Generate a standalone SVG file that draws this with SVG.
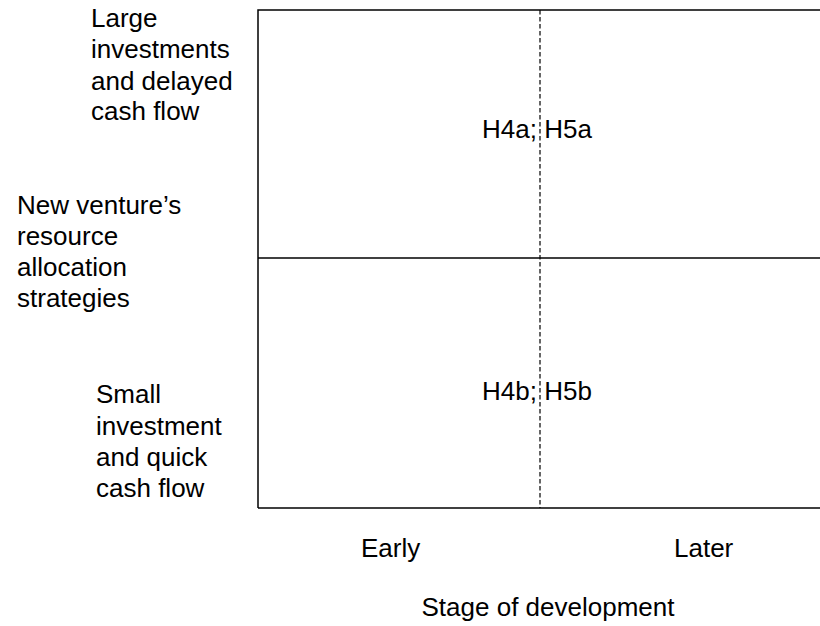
<svg xmlns="http://www.w3.org/2000/svg" width="820" height="626" viewBox="0 0 820 626">
  <style>
    text { font-family: "Liberation Sans", Arial, sans-serif; font-size: 26px; fill: #000; }
    .frame { stroke: #000; stroke-width: 1.5; fill: none; }
    .split { stroke: #000; stroke-width: 1.2; stroke-dasharray: 4.5 2.5; fill: none; }
  </style>
  <rect width="820" height="626" fill="#fff"/>

  <!-- quadrant frame -->
  <g id="frame">
    <path class="frame" d="M258 508 V10 H820"/>
    <path class="frame" d="M258 258 H820"/>
    <path class="frame" d="M258 508 H820"/>
    <path class="split" d="M540 10 V508"/>
  </g>

  <!-- vertical axis labels -->
  <g id="label-large">
    <text x="91" y="27">Large</text>
    <text x="91" y="58">investments</text>
    <text x="91" y="90">and delayed</text>
    <text x="91" y="120">cash flow</text>
  </g>
  <g id="label-axis-y">
    <text x="17" y="214">New venture’s</text>
    <text x="17" y="245">resource</text>
    <text x="17" y="276">allocation</text>
    <text x="17" y="307">strategies</text>
  </g>
  <g id="label-small">
    <text x="96" y="403">Small</text>
    <text x="96" y="435">investment</text>
    <text x="96" y="466">and quick</text>
    <text x="96" y="497">cash flow</text>
  </g>

  <!-- hypothesis labels -->
  <g id="h-upper"><text x="482" y="138">H4a; H5a</text></g>
  <g id="h-lower"><text x="482" y="400">H4b; H5b</text></g>

  <!-- horizontal axis labels -->
  <g id="label-early"><text x="361" y="557">Early</text></g>
  <g id="label-later"><text x="674" y="557">Later</text></g>
  <g id="label-axis-x"><text x="421.5" y="616">Stage of development</text></g>
</svg>
